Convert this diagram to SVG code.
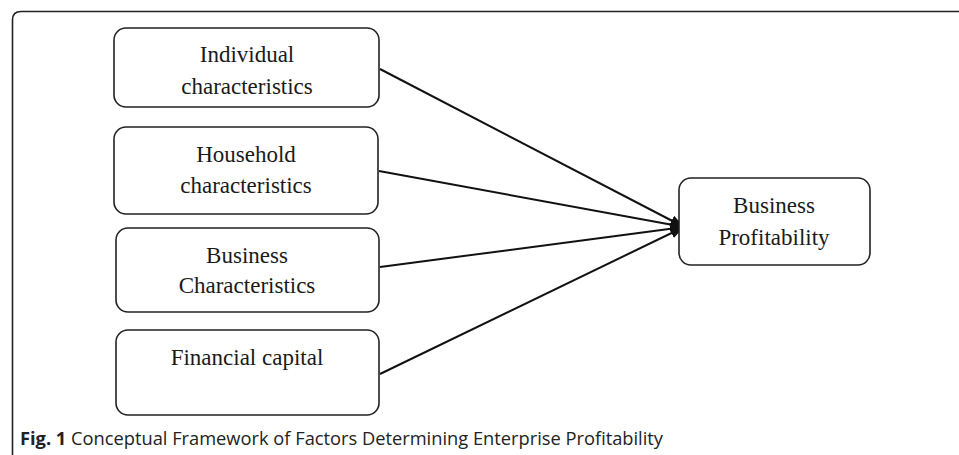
<svg xmlns="http://www.w3.org/2000/svg" width="959" height="455" viewBox="0 0 959 455">
<style>
.box{fill:#fff;stroke:#222;stroke-width:1.6}
.lbl{font-family:"Liberation Serif","Times New Roman",serif;font-size:23px;fill:#1a1a1a;text-anchor:middle}
.con{stroke:#111;stroke-width:2;fill:none;marker-end:url(#ah)}
.cap{font-family:"Open Sans","Liberation Sans",sans-serif;font-size:17.5px;fill:#222}
</style>
<defs>
<marker id="ah" viewBox="0 0 14 11" refX="14" refY="5.5" markerWidth="14" markerHeight="11" markerUnits="userSpaceOnUse" orient="auto">
<path d="M0,0 L14,5.5 L0,11 z" fill="#111"/>
</marker>
</defs>
<rect width="959" height="455" fill="#fff"/>
<path d="M12.5,455 V20 Q12.5,11.5 21,11.5 H959" fill="none" stroke="#222" stroke-width="1.6"/>
<g id="connectors">
<line class="con" x1="380" y1="69" x2="684" y2="227"/>
<line class="con" x1="379" y1="171" x2="684" y2="227"/>
<line class="con" x1="380" y1="267" x2="684" y2="227"/>
<line class="con" x1="380" y1="374" x2="684" y2="227"/>
</g>
<g id="individual">
<rect class="box" x="114" y="28" width="265" height="79" rx="12"/>
<text class="lbl" x="247" y="62">Individual</text>
<text class="lbl" x="247" y="94">characteristics</text>
</g>
<g id="household">
<rect class="box" x="114" y="127" width="264" height="87" rx="12"/>
<text class="lbl" x="246" y="162">Household</text>
<text class="lbl" x="246" y="193">characteristics</text>
</g>
<g id="business">
<rect class="box" x="116" y="228" width="263" height="84" rx="12"/>
<text class="lbl" x="247" y="263">Business</text>
<text class="lbl" x="247" y="293">Characteristics</text>
</g>
<g id="financial">
<rect class="box" x="116" y="330" width="263" height="85" rx="12"/>
<text class="lbl" x="247" y="365">Financial capital</text>
</g>
<g id="profitability">
<rect class="box" x="679" y="178" width="191" height="87" rx="12"/>
<text class="lbl" x="774" y="213">Business</text>
<text class="lbl" x="774" y="245">Profitability</text>
</g>
<text class="cap" x="20" y="445" textLength="643" lengthAdjust="spacingAndGlyphs"><tspan font-weight="bold">Fig. 1</tspan> Conceptual Framework of Factors Determining Enterprise Profitability</text>
</svg>
